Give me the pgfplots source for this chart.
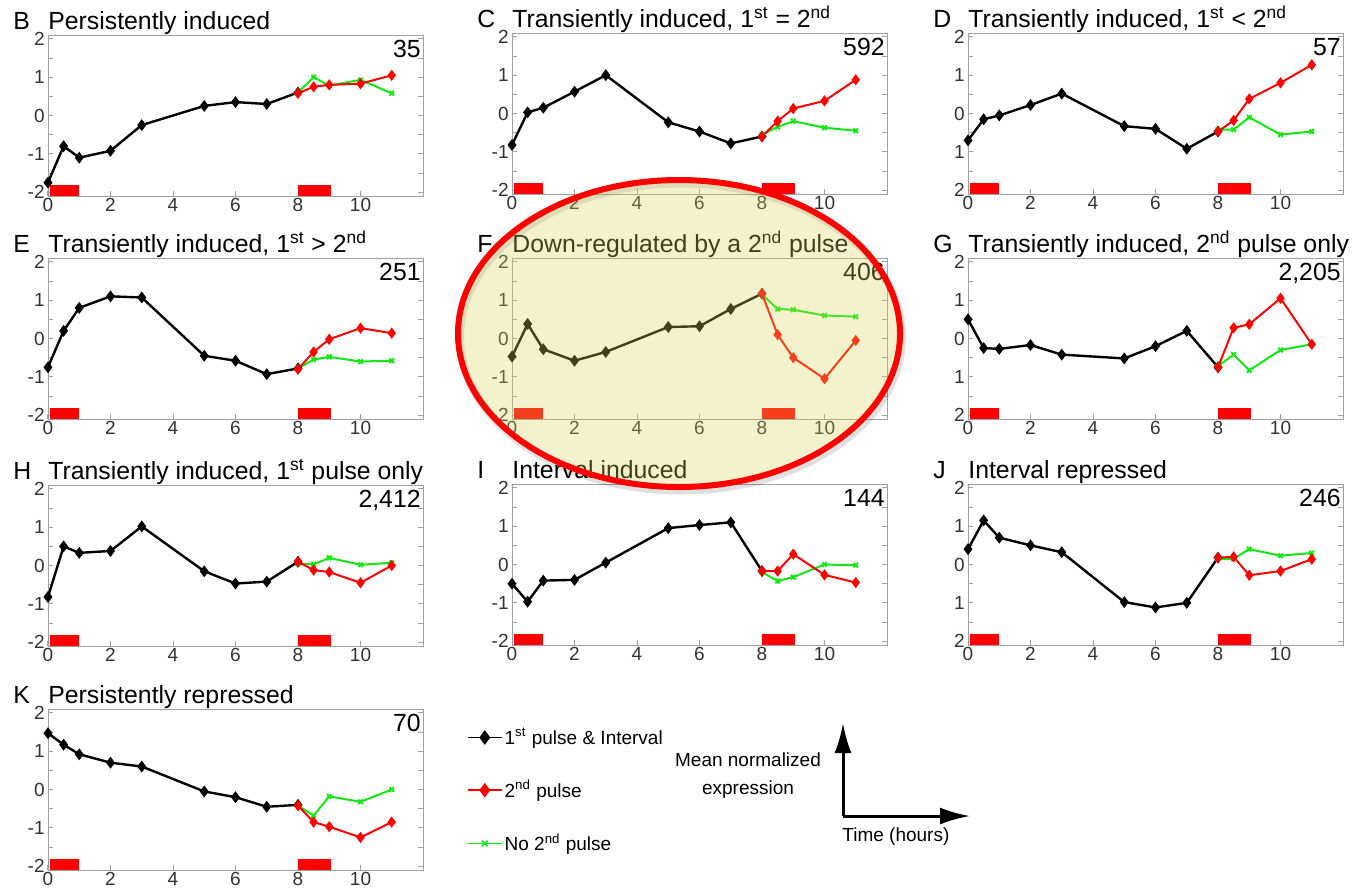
\documentclass[border=0pt]{standalone}
\usepackage{fontspec}
\setmainfont{Liberation Sans}
\usepackage{pgfplots}
\pgfplotsset{compat=1.18}
\usetikzlibrary{arrows.meta}

\definecolor{pgreen}{RGB}{20,230,20}
\definecolor{boxgray}{RGB}{160,160,160}
\definecolor{tickgray}{RGB}{50,50,50}
\definecolor{hilite}{RGB}{217,212,90}

\pgfplotsset{
  panel/.style={
    anchor=north west, scale only axis, width=187.5pt, height=80.5pt,
    xmin=0, xmax=12, ymin=-2.1, ymax=2.1, clip=false,
    xtick={0,2,...,10}, ytick={-2,-1,0,1,2}, minor ytick={-1.5,-0.5,0.5,1.5},
    xtick pos=bottom, ytick pos=both, tick align=inside,
    major tick length=2.5pt, minor tick length=2.5pt,
    axis line style={boxgray}, tick style={color=boxgray, line width=0.5pt},
    tick label style={font=\fontsize{9.5}{10}\selectfont, color=tickgray},
    xticklabel style={inner sep=1pt},
    yticklabel style={inner sep=1.5pt},
    /pgf/number format/assume math mode=true,
  },
  blk/.style={black, line width=1.2pt, mark=diamond*, mark size=2pt, forget plot},
  rd/.style={red, line width=1pt, mark=diamond*, mark size=2pt, mark options={fill=red}, forget plot},
  gr/.style={pgreen, line width=1pt, mark=x, mark size=1.6pt, forget plot},
  bar/.style={fill=red, draw=none, forget plot},
}
\tikzset{
  ttl/.style={font=\fontsize{12.4}{14}\selectfont, inner sep=0pt},
}

% #1 position, #2 letter, #3 title, #4 count, #5 black, #6 red, #7 green, #8 options, #9 extra
\newcommand{\panel}[9]{%
  \begin{axis}[panel, at={#1}, #8]
    \addplot[bar] coordinates {(0.05,-2.1) (1,-2.1) (1,-1.8) (0.05,-1.8)} -- cycle;
    \addplot[bar] coordinates {(8,-2.1) (9.05,-2.1) (9.05,-1.8) (8,-1.8)} -- cycle;
    \addplot[blk] coordinates {#5};
    \addplot[gr] coordinates {#7};
    \addplot[rd] coordinates {#6};
    \node[ttl, anchor=base west, yshift=3pt] at (rel axis cs:0,1) {#3};
    \node[ttl, anchor=base west, xshift=-17.5pt, yshift=3pt] at (rel axis cs:0,1) {#2};
    \node[ttl, anchor=north east, xshift=-1pt, yshift=-2.5pt] at (rel axis cs:1,1) {#4};
    #9
  \end{axis}}

\begin{document}
\begin{tikzpicture}
\useasboundingbox (0,0) rectangle (681.5pt,-445.5pt);

% row 1
\panel{(24pt,-17.5pt)}{B}{Persistently induced}{35}
  {(0,-1.75)(0.5,-0.8)(1,-1.1)(2,-0.92)(3,-0.25)(5,0.25)(6,0.35)(7,0.3)(8,0.6)}
  {(8,0.58)(8.5,0.75)(9,0.8)(10,0.83)(11,1.05)}
  {(8,0.6)(8.5,1.0)(9,0.78)(10,0.93)(11,0.58)}{}{}
\panel{(256pt,-16.5pt)}{C}{Transiently induced, 1\textsuperscript{st} = 2\textsuperscript{nd}}{592}
  {(0,-0.82)(0.5,0.03)(1,0.15)(2,0.57)(3,1.0)(5,-0.23)(6,-0.47)(7,-0.78)(8,-0.6)}
  {(8,-0.6)(8.5,-0.2)(9,0.13)(10,0.33)(11,0.88)}
  {(8,-0.55)(8.5,-0.35)(9,-0.2)(10,-0.37)(11,-0.45)}{}{}
\panel{(484pt,-16.5pt)}{D}{Transiently induced, 1\textsuperscript{st} < 2\textsuperscript{nd}}{57}
  {(0,-0.7)(0.5,-0.15)(1,-0.05)(2,0.22)(3,0.52)(5,-0.33)(6,-0.4)(7,-0.92)(8,-0.47)}
  {(8,-0.47)(8.5,-0.18)(9,0.38)(10,0.8)(11,1.27)}
  {(8,-0.42)(8.5,-0.42)(9,-0.1)(10,-0.55)(11,-0.47)}{yticklabels={2,1,0,1,2}}{}

% row 2
\panel{(24pt,-129pt)}{E}{Transiently induced, 1\textsuperscript{st} > 2\textsuperscript{nd}}{251}
  {(0,-0.75)(0.5,0.2)(1,0.8)(2,1.1)(3,1.07)(5,-0.45)(6,-0.58)(7,-0.93)(8,-0.78)}
  {(8,-0.8)(8.5,-0.35)(9,-0.02)(10,0.27)(11,0.14)}
  {(8,-0.78)(8.5,-0.55)(9,-0.48)(10,-0.6)(11,-0.58)}{}{}
\panel{(256pt,-129pt)}{F}{Down-regulated by a 2\textsuperscript{nd} pulse}{406}
  {(0,-0.47)(0.5,0.38)(1,-0.28)(2,-0.58)(3,-0.35)(5,0.3)(6,0.32)(7,0.77)(8,1.17)}
  {(8,1.17)(8.5,0.1)(9,-0.5)(10,-1.05)(11,-0.05)}
  {(8,1.15)(8.5,0.77)(9,0.75)(10,0.6)(11,0.57)}{}{}
\panel{(484pt,-129pt)}{G}{Transiently induced, 2\textsuperscript{nd} pulse only}{2,205}
  {(0,0.5)(0.5,-0.25)(1,-0.27)(2,-0.17)(3,-0.42)(5,-0.52)(6,-0.2)(7,0.2)(8,-0.75)}
  {(8,-0.75)(8.5,0.28)(9,0.37)(10,1.05)(11,-0.15)}
  {(8,-0.72)(8.5,-0.42)(9,-0.83)(10,-0.3)(11,-0.15)}{yticklabels={2,1,0,1,2}}{}

% row 3
\panel{(24pt,-242.5pt)}{H}{Transiently induced, 1\textsuperscript{st} pulse only}{2,412}
  {(0,-0.82)(0.5,0.5)(1,0.33)(2,0.38)(3,1.02)(5,-0.15)(6,-0.47)(7,-0.42)(8,0.1)}
  {(8,0.1)(8.5,-0.12)(9,-0.17)(10,-0.45)(11,0.0)}
  {(8,0.05)(8.5,0.03)(9,0.2)(10,0.02)(11,0.07)}{}{}
\panel{(256pt,-242pt)}{I}{Interval induced}{144}
  {(0,-0.5)(0.5,-0.97)(1,-0.42)(2,-0.4)(3,0.05)(5,0.95)(6,1.03)(7,1.1)(8,-0.17)}
  {(8,-0.17)(8.5,-0.17)(9,0.27)(10,-0.27)(11,-0.47)}
  {(8,-0.2)(8.5,-0.43)(9,-0.33)(10,0.0)(11,-0.02)}{}{}
\panel{(484pt,-242pt)}{J}{Interval repressed}{246}
  {(0,0.4)(0.5,1.15)(1,0.7)(2,0.5)(3,0.32)(5,-0.98)(6,-1.12)(7,-1.0)(8,0.18)}
  {(8,0.18)(8.5,0.2)(9,-0.28)(10,-0.17)(11,0.14)}
  {(8,0.15)(8.5,0.15)(9,0.4)(10,0.23)(11,0.3)}{yticklabels={2,1,0,1,2}}{}

% row 4 with legend
\panel{(24pt,-354.5pt)}{K}{Persistently repressed}{70}
  {(0,1.47)(0.5,1.17)(1,0.92)(2,0.7)(3,0.6)(5,-0.05)(6,-0.2)(7,-0.45)(8,-0.4)}
  {(8,-0.42)(8.5,-0.85)(9,-0.97)(10,-1.25)(11,-0.85)}
  {(8,-0.42)(8.5,-0.68)(9,-0.18)(10,-0.32)(11,0.0)}
  {legend style={at={(1.10,0.935)}, anchor=north west, draw=none, fill=none,
     font=\fontsize{9.5}{11}\selectfont, row sep=12.5pt, cells={anchor=west},
     nodes={inner xsep=1pt}}}
  {\addlegendimage{black, line width=0.8pt, mark=diamond*, mark size=3pt}
   \addlegendentry{1\textsuperscript{st} pulse \& Interval}
   \addlegendimage{red, line width=0.8pt, mark=diamond*, mark size=3pt, mark options={fill=red}}
   \addlegendentry{2\textsuperscript{nd} pulse}
   \addlegendimage{pgreen, line width=0.8pt, mark=x, mark size=2pt}
   \addlegendentry{No 2\textsuperscript{nd} pulse}}

% axis key
\node[align=center, font=\fontsize{9.5}{14}\selectfont] at (374pt,-388pt) {Mean normalized\\expression};
\draw[line width=1.5pt, -{Latex[length=15pt,width=8.5pt]}] (421.5pt,-408pt) -- (421.5pt,-361.5pt);
\draw[line width=1.5pt, -{Latex[length=15pt,width=8.5pt]}] (421.5pt,-408pt) -- (485pt,-408pt);
\node[anchor=west, inner sep=0pt, font=\fontsize{9.5}{11}\selectfont] at (421pt,-418.5pt) {Time (hours)};

% highlight of panel F
\draw[line width=4pt, black, opacity=0.12] (340.5pt,-168.5pt) ellipse [x radius=110.5pt, y radius=76.75pt];
\draw[line width=3pt, red, fill=hilite, fill opacity=0.3] (339.5pt,-166.75pt) ellipse [x radius=110.5pt, y radius=76.75pt];
\end{tikzpicture}
\end{document}
